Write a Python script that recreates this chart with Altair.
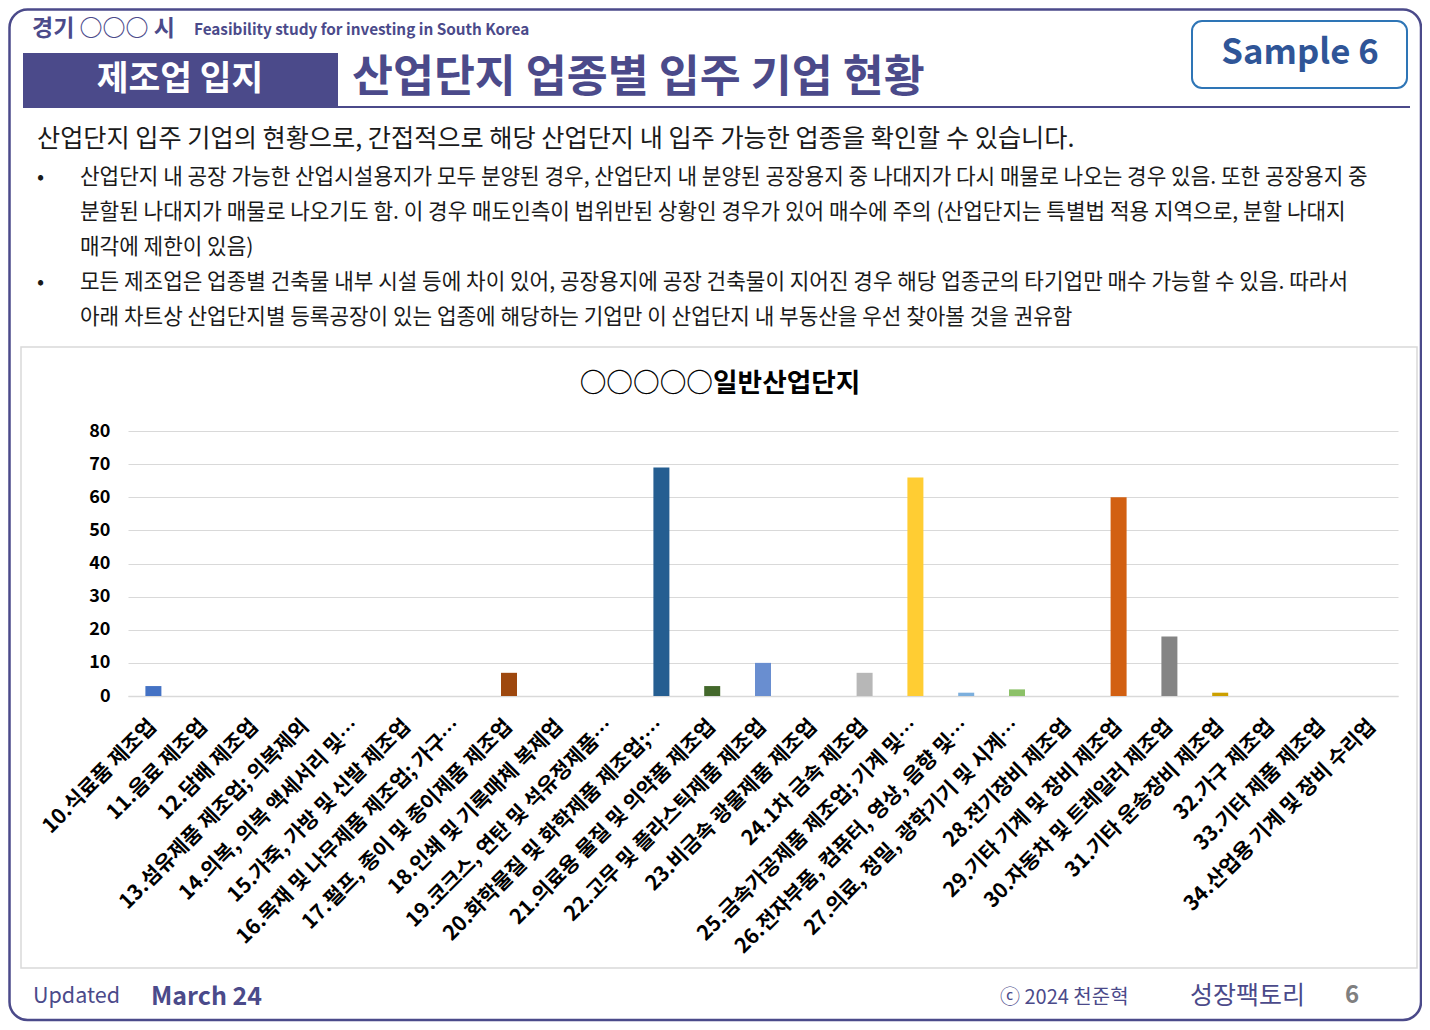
import altair as alt
import pandas as pd

# ---------------- data ----------------
categories = [
    "10.식료품 제조업",
    "11.음료 제조업",
    "12.담배 제조업",
    "13.섬유제품 제조업; 의복제외",
    "14.의복, 의복 액세서리 및…",
    "15.가죽, 가방 및 신발 제조업",
    "16.목재 및 나무제품 제조업; 가구…",
    "17.펄프, 종이 및 종이제품 제조업",
    "18.인쇄 및 기록매체 복제업",
    "19.코크스, 연탄 및 석유정제품…",
    "20.화학물질 및 화학제품 제조업;…",
    "21.의료용 물질 및 의약품 제조업",
    "22.고무 및 플라스틱제품 제조업",
    "23.비금속 광물제품 제조업",
    "24.1차 금속 제조업",
    "25.금속가공제품 제조업; 기계 및…",
    "26.전자부품, 컴퓨터, 영상, 음향 및…",
    "27.의료, 정밀, 광학기기 및 시계…",
    "28.전기장비 제조업",
    "29.기타 기계 및 장비 제조업",
    "30.자동차 및 트레일러 제조업",
    "31.기타 운송장비 제조업",
    "32.가구 제조업",
    "33.기타 제품 제조업",
    "34.산업용 기계 및 장비 수리업",
]
values = [3, 0, 0, 0, 0, 0, 0, 7, 0, 0, 69, 3, 10, 0, 7, 66, 1, 2, 0, 60, 18, 1, 0, 0, 0]

y_ticks = [0, 10, 20, 30, 40, 50, 60, 70, 80]

chart_title = "○○○○○일반산업단지"
header_small = "경기 ○○○ 시"
header_en = "Feasibility study for investing in South Korea"
section = "제조업 입지"
main_title = "산업단지 업종별 입주 기업 현황"
sample_label = "Sample 6"
intro = "산업단지 입주 기업의 현황으로, 간접적으로 해당 산업단지 내 입주 가능한 업종을 확인할 수 있습니다."
bullet_lines = [
    "산업단지 내 공장 가능한 산업시설용지가 모두 분양된 경우, 산업단지 내 분양된 공장용지 중 나대지가 다시 매물로 나오는 경우 있음. 또한 공장용지 중",
    "분할된 나대지가 매물로 나오기도 함. 이 경우 매도인측이 법위반된 상황인 경우가 있어 매수에 주의 (산업단지는 특별법 적용 지역으로, 분할 나대지",
    "매각에 제한이 있음)",
    "모든 제조업은 업종별 건축물 내부 시설 등에 차이 있어, 공장용지에 공장 건축물이 지어진 경우  해당 업종군의 타기업만 매수 가능할 수 있음. 따라서",
    "아래 차트상 산업단지별 등록공장이 있는 업종에 해당하는 기업만 이 산업단지 내 부동산을 우선 찾아볼 것을 권유함",
]
bullet_marks = ["•", "", "", "•", ""]
footer_updated = "Updated"
footer_date = "March 24"
footer_copy = "ⓒ 2024 천준혁"
footer_brand = "성장팩토리"
footer_page = "6"

# ---------------- style ----------------
palette = [
    "#4472C4", "#ED7D31", "#A5A5A5", "#FFC000", "#5B9BD5", "#70AD47", "#264478",
    "#9E480E", "#636363", "#997300", "#255E91", "#43682B", "#698ED0", "#F1975A",
    "#B7B7B7", "#FFCD33", "#7CAFDD", "#8CC168", "#335AA1", "#D26012", "#848484",
    "#CCA000", "#2C63B6", "#5C8E3A", "#1E3B6B",
]
FONT = "Noto Sans CJK KR"
PURPLE = "#4B4A8A"
OX, OY = 128, 431  # page position of plot-area origin


def txt(s, x, y, size, color="#000000", weight="normal", align="left"):
    return alt.Chart(pd.DataFrame({"t": [s]})).mark_text(
        font=FONT, fontSize=size, fontWeight=weight, color=color,
        align=align, baseline="middle",
    ).encode(x=alt.value(x - OX), y=alt.value(y - OY), text="t:N")


def box(x1, y1, x2, y2, stroke=None, fill="transparent", sw=1, radius=0):
    kw = dict(fill=fill, cornerRadius=radius)
    if stroke:
        kw.update(stroke=stroke, strokeWidth=sw)
    return alt.Chart(pd.DataFrame({"k": [0]})).mark_rect(**kw).encode(
        x=alt.value(x1 - OX), x2=alt.value(x2 - OX),
        y=alt.value(y1 - OY), y2=alt.value(y2 - OY),
    )


def hline(x1, x2, y, color, sw):
    return alt.Chart(pd.DataFrame({"k": [0]})).mark_rule(color=color, strokeWidth=sw).encode(
        x=alt.value(x1 - OX), x2=alt.value(x2 - OX), y=alt.value(y - OY)
    )


layers = []
layers.append(box(9.5, 9.5, 1421, 1020, stroke=PURPLE, sw=2.5, radius=18))
layers.append(txt(header_small, 32, 29, 23, PURPLE, "bold"))
layers.append(txt(header_en, 194, 30, 15.3, PURPLE, "bold"))
layers.append(box(23, 53, 338, 108, fill=PURPLE))
layers.append(txt(section, 180, 80, 34.5, "#FFFFFF", "bold", "center"))
layers.append(txt(main_title, 352, 79, 44.5, PURPLE, "bold"))
layers.append(hline(338, 1410, 107, PURPLE, 2))
layers.append(box(1192, 21, 1407, 88, stroke="#2E75B6", sw=2, radius=10))
layers.append(txt(sample_label, 1300, 54, 34.7, "#2F5597", "bold", "center"))
layers.append(txt(intro, 37, 139, 25.2, "#1A1A1A"))
for i, (b, line) in enumerate(zip(bullet_marks, bullet_lines)):
    yy = 178 + 35 * i
    if b:
        layers.append(txt(b, 37, yy, 21, "#1A1A1A"))
    layers.append(txt(line, 80, yy, 21.3, "#1A1A1A"))
layers.append(box(21, 347, 1417, 968, stroke="#D9D9D9", sw=1.5))
layers.append(txt(chart_title, 720, 384, 26.7, "#000000", "bold", "center"))
layers.append(txt(footer_updated, 33, 997, 21.5, PURPLE))
layers.append(txt(footer_date, 151, 997, 25, PURPLE, "bold"))
layers.append(txt(footer_copy, 1000, 998, 20, PURPLE))
layers.append(txt(footer_brand, 1190, 996, 25, PURPLE))
layers.append(txt(footer_page, 1345, 996, 24, "#7F7F7F", "bold"))

df = pd.DataFrame({"cat": categories, "val": values})
bars = alt.Chart(df).mark_bar(size=16).encode(
    x=alt.X(
        "cat:N", sort=categories,
        axis=alt.Axis(
            title=None, labelAngle=315, labelAlign="right", labelBaseline="middle",
            labelFont=FONT, labelFontSize=20.8, labelFontWeight="bold", labelColor="#000000",
            labelLimit=0, ticks=False, domainColor="#D9D9D9", domainWidth=1.5,
            labelPadding=27, grid=False,
        ),
    ),
    y=alt.Y(
        "val:Q", scale=alt.Scale(domain=[0, 80]),
        axis=alt.Axis(
            title=None, values=y_ticks, labelFont=FONT, labelFontSize=18,
            labelFontWeight="bold", labelColor="#000000", ticks=False, domain=False,
            gridColor="#D9D9D9", gridWidth=1.2, labelPadding=18,
        ),
    ),
    color=alt.Color("cat:N", scale=alt.Scale(domain=categories, range=palette), legend=None),
)
layers.append(bars)

chart = alt.layer(*layers).properties(
    width=1270, height=265,
    autosize=alt.AutoSizeParams(type="none"),
    padding={"left": 120, "top": 423, "right": 24, "bottom": 326},
    background="#FFFFFF",
).configure_view(stroke=None)

chart.save("out.html", embed_options={"renderer": "svg", "actions": False})
